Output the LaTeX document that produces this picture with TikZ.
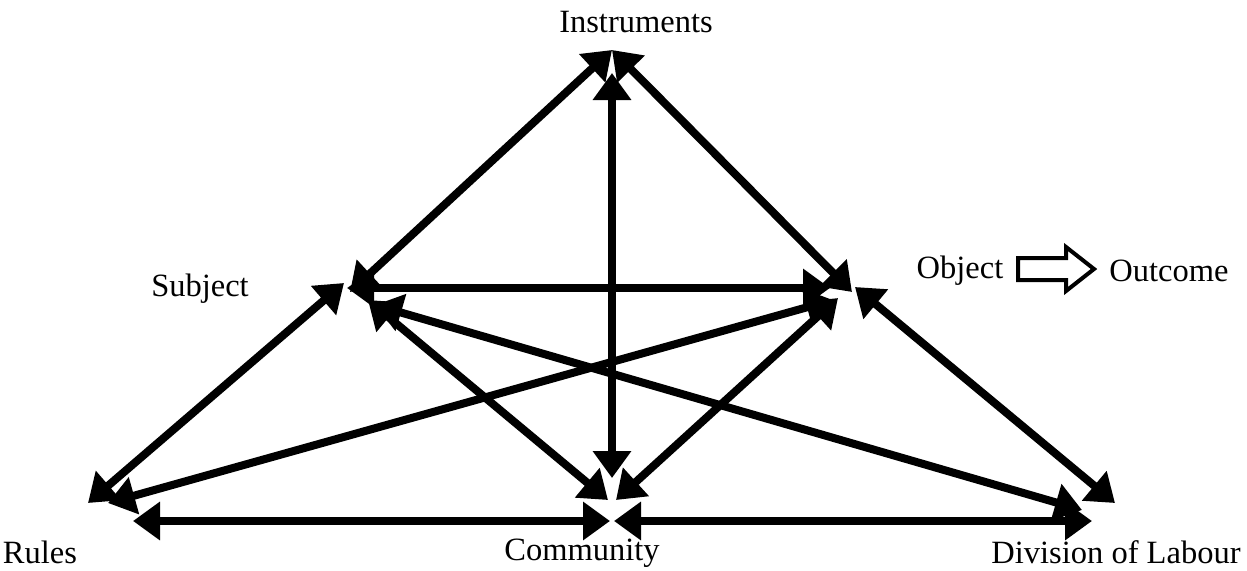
\documentclass[tikz,border=0pt]{standalone}
\usepackage{fontspec}
\setmainfont{Liberation Serif}
\usetikzlibrary{arrows.meta}
\begin{document}
\begin{tikzpicture}[x=1pt,y=-1pt,
  link/.style={line width=8pt, {Triangle[length=27pt,width=37pt]}-{Triangle[length=27pt,width=37pt]}},
  lbl/.style={font=\fontsize{32.5}{38}\selectfont, inner sep=0pt}]
\useasboundingbox (0,0) rectangle (1247,570);
% labels
\node[lbl] (instr) at (636,22) {Instruments};
\node[lbl] (subj) at (200,289) {Subject};
\node[lbl] (obj) at (960,271) {Object};
\node[lbl] (outc) at (1169,271) {Outcome};
\node[lbl] (rules) at (40,552) {Rules};
\node[lbl] (comm) at (582,553) {Community};
\node[lbl] (div) at (1116,552) {Division of Labour};
% end points
\coordinate (I1) at (612,50);
\coordinate (I2) at (612,73);
\coordinate (S1) at (350,292);
\coordinate (S2) at (347,288);
\coordinate (S3) at (344,283);
\coordinate (S4) at (368,300);
\coordinate (S5) at (375,305);
\coordinate (O1) at (852,292);
\coordinate (O2) at (830,288);
\coordinate (O3) at (833,300);
\coordinate (O4) at (838,298);
\coordinate (O5) at (855,287);
\coordinate (R1) at (88,503);
\coordinate (R2) at (108,503);
\coordinate (R3) at (133,521);
\coordinate (C1) at (612,478);
\coordinate (C2) at (608,500);
\coordinate (C3) at (616,500);
\coordinate (C4) at (610,521);
\coordinate (C5) at (614,521);
\coordinate (D1) at (1082,510);
\coordinate (D2) at (1115,503);
\coordinate (D3) at (1092,521);
% connectors
\draw[link] (I1) -- (S1);
\draw[link] (I1) -- (O1);
\draw[link] (I2) -- (C1);
\draw[link] (S2) -- (O2);
\draw[link] (R1) -- (S3);
\draw[link] (R2) -- (O3);
\draw[link] (S4) -- (C2);
\draw[link] (O4) -- (C3);
\draw[link] (S5) -- (D1);
\draw[link] (O5) -- (D2);
\draw[link] (R3) -- (C4);
\draw[link] (C5) -- (D3);
% hollow block arrow
\draw[line width=4pt, line join=miter] (1018,258) -- (1066,258) -- (1066,247) -- (1094,269) -- (1066,291) -- (1066,280) -- (1018,280) -- cycle;
\end{tikzpicture}
\end{document}
